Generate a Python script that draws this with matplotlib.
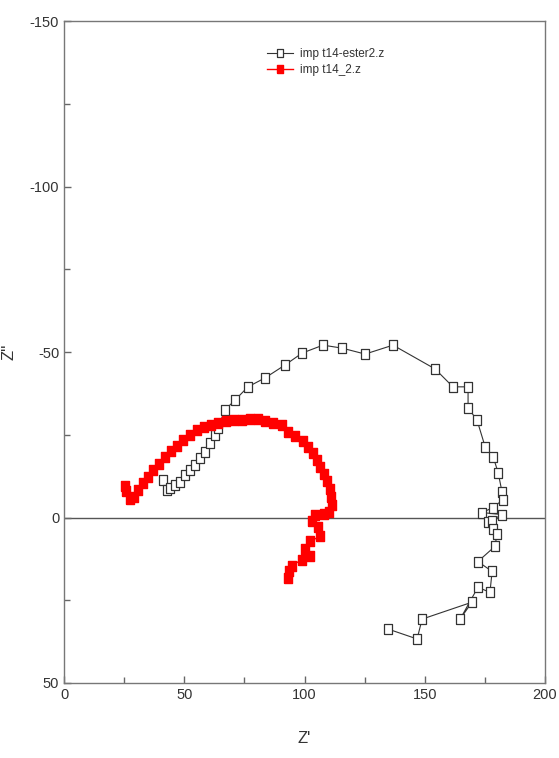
import matplotlib
matplotlib.use("Agg")
import matplotlib.pyplot as plt

plt.rcParams['font.family'] = ['Liberation Sans', 'DejaVu Sans']
plt.rcParams['axes.unicode_minus'] = False

# imp t14-ester2.z  (Z', Z'')
ester_re = [41.2, 42.8, 44.1, 46.2, 48.2, 50.3, 52.4, 54.5, 56.5, 58.6, 60.7, 62.8,
            64.0, 66.9, 71.1, 76.5, 83.6, 91.9, 99.0, 107.7, 115.6, 125.2, 136.8,
            154.3, 161.7, 168.0, 168.0, 171.7, 175.1, 178.4, 180.5, 182.1, 182.5,
            178.4, 173.8, 182.1, 176.3, 178.0, 178.4, 180.0, 179.2, 172.1, 178.0,
            177.1, 172.1, 164.7, 169.6, 148.9, 146.8, 134.7]
ester_im = [-11.4, -8.4, -9.0, -9.9, -10.8, -13.0, -14.5, -16.0, -18.1, -19.9, -22.6, -25.0,
            -27.1, -32.5, -35.5, -39.5, -42.2, -46.1, -49.7, -52.1, -51.2, -49.4, -52.1,
            -44.9, -39.5, -39.5, -33.1, -29.5, -21.4, -18.4, -13.6, -7.8, -5.4,
            -3.0, -1.5, -0.9, 1.5, 1.2, 3.6, 5.1, 8.7, 13.3, 16.3,
            22.6, 21.1, 30.7, 25.6, 30.7, 36.7, 33.7]

# imp t14_2.z
t14_re = [25.4, 25.8, 27.4, 29.1, 30.8, 32.8, 34.9, 37.0, 39.5, 42.0, 44.5, 47.0, 49.5,
          52.4, 55.3, 58.2, 61.1, 64.0, 67.4, 70.7, 74.0, 77.3, 80.7, 83.6, 86.9, 90.6,
          93.1, 96.0, 99.4, 101.5, 103.5, 105.2, 106.4, 108.1, 109.4, 110.6, 111.0, 111.4,
          110.2, 108.1, 104.4, 103.1, 105.6, 106.4, 102.3, 100.2, 102.3, 99.0, 94.8, 93.6, 93.1]
t14_im = [-9.6, -8.1, -5.7, -6.3, -8.4, -10.5, -12.3, -14.5, -16.3, -18.4, -20.2, -21.7, -23.5,
          -25.0, -26.5, -27.4, -28.0, -28.6, -29.2, -29.5, -29.5, -29.8, -29.8, -29.2, -28.6, -28.0,
          -25.9, -24.7, -23.2, -21.4, -19.6, -17.5, -15.4, -13.3, -11.1, -8.7, -6.3, -3.9,
          -1.8, -1.2, -0.9, 1.2, 3.0, 5.7, 7.2, 9.6, 11.7, 12.7, 14.5, 16.3, 18.4]

# slightly tall squares, like the reference
rect = [(-0.75, -1), (0.75, -1), (0.75, 1), (-0.75, 1), (-0.75, -1)]

fig = plt.figure(figsize=(5.59, 7.58), dpi=100)
ax = fig.add_axes([0.1145, 0.099, 0.8605, 0.873])

ax.axhline(0, color='#555555', lw=1, zorder=1)
ax.plot(ester_re, ester_im, color='#333333', lw=0.8, marker=rect, ms=7.5,
        mfc='white', mec='#333333', mew=0.9, label='imp t14-ester2.z', zorder=2)
ax.plot(t14_re, t14_im, color='red', lw=1, marker=rect, ms=7,
        mfc='red', mec='red', label='imp t14_2.z', zorder=3)

ax.set_xlim(0, 200)
ax.set_ylim(50, -150)
ax.set_xticks([0, 50, 100, 150, 200])
ax.set_yticks([-150, -100, -50, 0, 50])
ax.set_xticks([25, 75, 125, 175], minor=True)
ax.set_yticks([-125, -75, -25, 25], minor=True)
ax.tick_params(which='both', direction='in', color='#666666', labelcolor='#333333',
               labelsize=10.5, width=1)
ax.tick_params(which='major', length=5)
ax.tick_params(which='minor', length=4)
for s in ax.spines.values():
    s.set_color('#777777')
    s.set_linewidth(1)

ax.set_xlabel("Z'", fontsize=12, color='#333333')
ax.set_ylabel("Z''", fontsize=12, color='#333333')
ax.xaxis.set_label_coords(0.5, -0.072)
ax.yaxis.set_label_coords(-0.098, 0.5)

ax.legend(loc='upper left', bbox_to_anchor=(0.4, 0.975), frameon=False, fontsize=8.5,
          handlelength=2.2, handletextpad=0.6, labelspacing=0.3, labelcolor='#333333',
          markerscale=0.8)

fig.savefig('out.png', dpi=100)
